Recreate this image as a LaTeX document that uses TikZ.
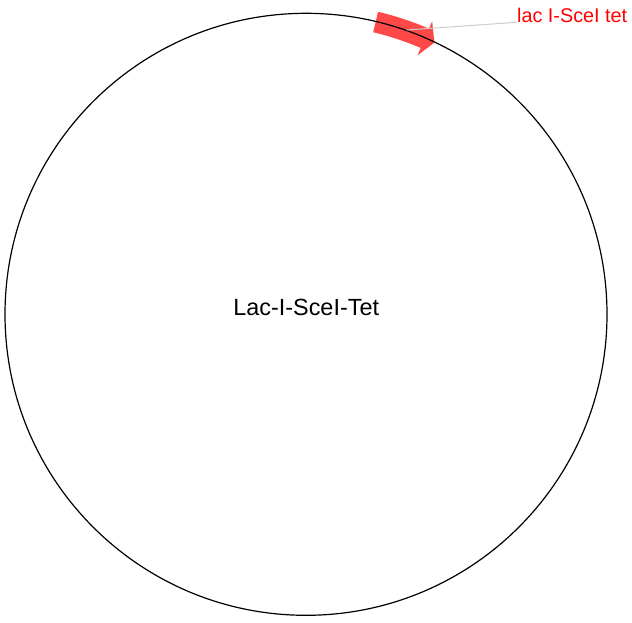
\documentclass[tikz,border=0pt]{standalone}
\usepackage{fontspec}
\setmainfont{Liberation Sans}
\usetikzlibrary{calc}
\definecolor{featred}{RGB}{255,72,72}
\definecolor{leadgray}{RGB}{205,205,205}
\definecolor{labred}{RGB}{255,0,0}
\tikzset{
  backbone/.style={draw=black, line width=1.2pt},
  feature/.style={fill=featred, draw=none},
  leader/.style={draw=leadgray, line width=1pt},
  featlabel/.style={text=labred, font=\fontsize{19.8}{22}\selectfont, inner sep=0pt, anchor=base west},
  title/.style={text=black, font=\fontsize{23.4}{26}\selectfont, inner sep=0pt, anchor=base}
}
\begin{document}
\begin{tikzpicture}[x=1pt,y=1pt]
\useasboundingbox (0,0) rectangle (632,-622);
\fill[white] (0,0) rectangle (632,-622);
\coordinate (C) at (306,-314.3);
% feature arrow
\fill[feature] ($(C)+(76.6:311)$) arc[start angle=76.6, end angle=66.7, radius=311]
  -- ($(C)+(66.7:319)$) -- ($(C)+(64.7:300.5)$) -- ($(C)+(66.7:282)$)
  -- ($(C)+(66.7:290)$) arc[start angle=66.7, end angle=76.6, radius=290] -- cycle;
% backbone
\node[circle, minimum size=602pt, inner sep=0pt, backbone] (ring) at (C) {};
\node[title] (name) at (306.2,-315) {Lac-I-SceI-Tet};
\node[featlabel] (lab) at (517,-22.7) {lac I-SceI tet};
\coordinate (g) at (406.7,-30);
\coordinate (le) at (516.7,-22.3);
\draw[leader] (g) -- (le);
\end{tikzpicture}
\end{document}
